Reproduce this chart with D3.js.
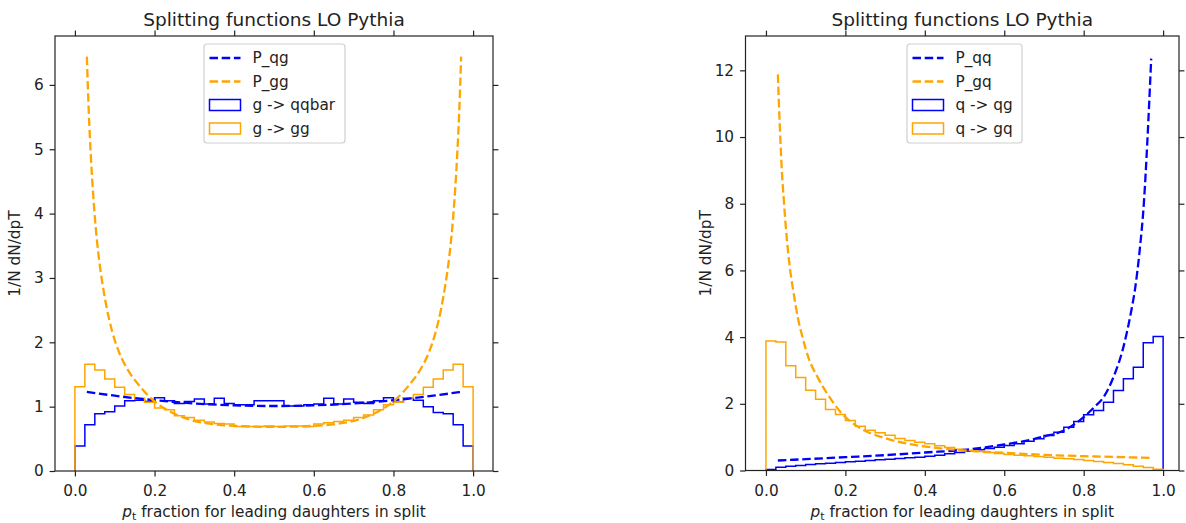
<!DOCTYPE html>
<html>
<head>
<meta charset="utf-8">
<script src="https://cdn.jsdelivr.net/npm/d3@7"></script>
<style>
  body { margin: 0; background: #fff; }
  svg text { font-family: "DejaVu Sans", sans-serif; fill: #222; }
</style>
</head>
<body>
<div id="chart"></div>
<script>
// histogram bins: 40 equal bins from 0 to 1
var binEdges = d3.range(41).map(function (i) { return i / 40; });

// left panel: gluon splittings
var gqqbarHist = [0.39, 0.72, 0.89, 0.92, 1.01, 1.09, 1.10, 1.08, 1.14, 1.09,
                  1.05, 1.08, 1.12, 1.04, 1.13, 1.05, 1.03, 1.03, 1.09, 1.09,
                  1.09, 1.01, 1.01, 1.03, 1.04, 1.13, 1.04, 1.12, 1.07, 1.05,
                  1.09, 1.14, 1.07, 1.14, 1.10, 1.00, 0.91, 0.89, 0.72, 0.39];
var gggHist = [1.31, 1.66, 1.57, 1.43, 1.30, 1.19, 1.13, 1.07, 0.98, 0.95,
               0.86, 0.83, 0.79, 0.76, 0.74, 0.73, 0.69, 0.69, 0.69, 0.70,
               0.69, 0.70, 0.70, 0.69, 0.73, 0.75, 0.77, 0.79, 0.83, 0.87,
               0.95, 1.03, 1.07, 1.14, 1.19, 1.30, 1.43, 1.57, 1.66, 1.31];
var pqgZ = [0.03, 0.1, 0.2, 0.3, 0.4, 0.5, 0.6, 0.7, 0.8, 0.9, 0.97];
var pqgVals = [1.23, 1.17, 1.10, 1.05, 1.02, 1.01, 1.02, 1.05, 1.10, 1.17, 1.23];
var pggZ = [0.03, 0.035, 0.04, 0.05, 0.06, 0.07, 0.08, 0.094, 0.11, 0.136, 0.16, 0.178, 0.2, 0.237, 0.287, 0.346, 0.405, 0.45, 0.5,
            0.55, 0.595, 0.654, 0.713, 0.763, 0.8, 0.822, 0.84, 0.864, 0.89, 0.906, 0.92, 0.93, 0.94, 0.95, 0.96, 0.965, 0.97];
var pggVals = [6.44, 5.55, 4.9, 3.95, 3.32, 2.88, 2.53, 2.16, 1.86, 1.54, 1.34, 1.21, 1.08, 0.93, 0.80, 0.73, 0.70, 0.69, 0.685,
               0.69, 0.70, 0.73, 0.80, 0.93, 1.08, 1.21, 1.34, 1.54, 1.86, 2.16, 2.53, 2.88, 3.32, 3.95, 4.9, 5.55, 6.44];

// right panel: quark splittings
var qqgHist = [0.03, 0.10, 0.13, 0.15, 0.18, 0.20, 0.22, 0.24, 0.26, 0.28,
               0.30, 0.32, 0.34, 0.36, 0.38, 0.40, 0.43, 0.46, 0.50, 0.54,
               0.58, 0.62, 0.66, 0.70, 0.75, 0.80, 0.88, 0.95, 1.05, 1.15,
               1.30, 1.47, 1.67, 1.80, 2.05, 2.40, 2.75, 3.10, 3.83, 4.02];
var qgqHist = [3.88, 3.85, 3.14, 2.79, 2.41, 2.14, 1.83, 1.68, 1.50, 1.33,
               1.21, 1.13, 1.06, 0.96, 0.90, 0.85, 0.80, 0.74, 0.69, 0.64,
               0.60, 0.57, 0.54, 0.51, 0.48, 0.46, 0.44, 0.42, 0.40, 0.37,
               0.35, 0.33, 0.30, 0.27, 0.24, 0.21, 0.17, 0.13, 0.09, 0.04];
var pqqZ = [0.03, 0.1, 0.2, 0.3, 0.4, 0.5, 0.6, 0.65, 0.7, 0.75, 0.8, 0.825, 0.85, 0.875, 0.9, 0.908, 0.92, 0.93, 0.941, 0.952, 0.96, 0.97];
var pqqVals = [0.30, 0.34, 0.40, 0.46, 0.54, 0.62, 0.78, 0.88, 1.02, 1.2, 1.6, 1.88, 2.2, 2.8, 3.7, 4.1, 4.8, 5.5, 6.6, 8.1, 9.8, 12.35];
var pgqZ = [0.03, 0.035, 0.04, 0.045, 0.05, 0.06, 0.07, 0.08, 0.092, 0.108, 0.13, 0.16, 0.188, 0.233, 0.3, 0.367, 0.434, 0.5, 0.6, 0.7, 0.8, 0.9, 0.97];
var pgqVals = [11.88, 10.3, 9.0, 8.1, 7.3, 6.1, 5.3, 4.6, 4.0, 3.35, 2.8, 2.2, 1.75, 1.3, 0.97, 0.78, 0.67, 0.60, 0.53, 0.47, 0.43, 0.40, 0.38];

var xTicks = [0, 0.2, 0.4, 0.6, 0.8, 1.0];
var leftYTicks = [0, 1, 2, 3, 4, 5, 6];
var rightYTicks = [0, 2, 4, 6, 8, 10, 12];

var titleText = "Splitting functions LO Pythia";
var yLabelText = "1/N dN/dpT";

var svg = d3.select("#chart").append("svg")
    .attr("width", 1186)
    .attr("height", 523);

var fontSize = 15.3;
var tickLen = 5.4;

function drawPanel(cfg) {
    var x = d3.scaleLinear().domain(cfg.xDomain).range([cfg.left, cfg.right]);
    var y = d3.scaleLinear().domain(cfg.yDomain).range([cfg.bottom, cfg.top]);

    var g = svg.append("g");

    var clipId = "clip" + cfg.id;
    svg.append("clipPath").attr("id", clipId)
        .append("rect")
        .attr("x", cfg.left).attr("y", cfg.top)
        .attr("width", cfg.right - cfg.left).attr("height", cfg.bottom - cfg.top);

    var plot = g.append("g").attr("clip-path", "url(#" + clipId + ")");

    // step histograms
    cfg.hists.forEach(function (h) {
        var pts = [[binEdges[0], 0]];
        h.values.forEach(function (v, i) {
            pts.push([binEdges[i], v]);
            pts.push([binEdges[i + 1], v]);
        });
        pts.push([binEdges[binEdges.length - 1], 0]);
        plot.append("path")
            .attr("d", d3.line().x(function (d) { return x(d[0]); }).y(function (d) { return y(d[1]); })(pts))
            .attr("fill", "none")
            .attr("stroke", h.color)
            .attr("stroke-width", 1.5)
            .attr("stroke-linejoin", "miter");
    });

    // dashed splitting functions
    cfg.lines.forEach(function (l) {
        var pts = l.z.map(function (z, i) { return [z, l.v[i]]; });
        plot.append("path")
            .attr("d", d3.line().curve(d3.curveMonotoneX)
                .x(function (d) { return x(d[0]); }).y(function (d) { return y(d[1]); })(pts))
            .attr("fill", "none")
            .attr("stroke", l.color)
            .attr("stroke-width", 2.3)
            .attr("stroke-dasharray", "8.5,3.7");
    });

    // axes on all four sides, ticks outward
    var fmt = d3.format(".1f");
    var xb = g.append("g").attr("transform", "translate(0," + cfg.bottom + ")")
        .call(d3.axisBottom(x).tickValues(xTicks).tickFormat(fmt).tickSize(tickLen).tickPadding(6));
    var xt = g.append("g").attr("transform", "translate(0," + cfg.top + ")")
        .call(d3.axisTop(x).tickValues(xTicks).tickFormat("").tickSize(tickLen));
    var yl = g.append("g").attr("transform", "translate(" + cfg.left + ",0)")
        .call(d3.axisLeft(y).tickValues(cfg.yTicks).tickFormat(d3.format("d")).tickSize(tickLen).tickPadding(6));
    var yr = g.append("g").attr("transform", "translate(" + cfg.right + ",0)")
        .call(d3.axisRight(y).tickValues(cfg.yTicks).tickFormat("").tickSize(tickLen));

    [xb, xt, yl, yr].forEach(function (a) {
        a.select(".domain").remove();
        a.selectAll(".tick line").attr("stroke", "#222").attr("stroke-width", 1.2);
        a.selectAll(".tick text")
            .attr("font-family", "DejaVu Sans")
            .attr("font-size", fontSize)
            .attr("fill", "#222");
    });
    xb.selectAll(".tick text").attr("dy", "0.9em");

    g.append("rect")
        .attr("x", cfg.left).attr("y", cfg.top)
        .attr("width", cfg.right - cfg.left).attr("height", cfg.bottom - cfg.top)
        .attr("fill", "none")
        .attr("stroke", "#222")
        .attr("stroke-width", 1.2);

    var cx = (cfg.left + cfg.right) / 2;

    g.append("text")
        .attr("x", cx).attr("y", 26)
        .attr("text-anchor", "middle")
        .attr("font-size", 18.5)
        .text(titleText);

    g.append("text")
        .attr("transform", "translate(" + cfg.yLabelX + "," + ((cfg.top + cfg.bottom) / 2) + ")rotate(-90)")
        .attr("text-anchor", "middle")
        .attr("font-size", fontSize)
        .text(yLabelText);

    var xl = g.append("text")
        .attr("x", cx).attr("y", 517)
        .attr("text-anchor", "middle")
        .attr("font-size", fontSize);
    xl.append("tspan").attr("font-style", "italic").text("p");
    xl.append("tspan").attr("font-size", 11).attr("dy", 3).text("t");
    xl.append("tspan").attr("dy", -3).text(" fraction for leading daughters in split");

    // legend
    var lg = cfg.legend;
    g.append("rect")
        .attr("x", lg.x).attr("y", 44)
        .attr("width", lg.w).attr("height", 99)
        .attr("rx", 3)
        .attr("fill", "#fff").attr("fill-opacity", 0.8)
        .attr("stroke", "#d0d0d0").attr("stroke-width", 1.2);

    var rows = [58, 81.5, 105, 128.5];
    var entries = cfg.lines.map(function (l) { return { label: l.label, color: l.color, kind: "line" }; })
        .concat(cfg.hists.map(function (h) { return { label: h.label, color: h.color, kind: "patch" }; }));
    entries.forEach(function (e, i) {
        var ry = rows[i];
        var hx = lg.x + 5.5;
        if (e.kind === "line") {
            g.append("line")
                .attr("x1", hx).attr("x2", hx + 31)
                .attr("y1", ry).attr("y2", ry)
                .attr("stroke", e.color).attr("stroke-width", 2.3)
                .attr("stroke-dasharray", "8.5,3.7");
        } else {
            g.append("rect")
                .attr("x", hx).attr("y", ry - 5.5)
                .attr("width", 31).attr("height", 11)
                .attr("fill", "none")
                .attr("stroke", e.color).attr("stroke-width", 1.5);
        }
        g.append("text")
            .attr("x", hx + 43).attr("y", ry + 5.3)
            .attr("font-size", fontSize)
            .text(e.label);
    });
}

drawPanel({
    id: "L",
    left: 55, right: 493, top: 36, bottom: 471,
    xDomain: [-0.05, 1.05], yDomain: [0, 6.76],
    yTicks: leftYTicks, yLabelX: 20,
    hists: [
        { label: "g -> qqbar", color: "blue", values: gqqbarHist },
        { label: "g -> gg", color: "orange", values: gggHist }
    ],
    lines: [
        { label: "P_qg", color: "blue", z: pqgZ, v: pqgVals },
        { label: "P_gg", color: "orange", z: pggZ, v: pggVals }
    ],
    legend: { x: 204, w: 141 }
});

drawPanel({
    id: "R",
    left: 745.5, right: 1179, top: 36, bottom: 470.5,
    xDomain: [-0.0515, 1.04], yDomain: [0, 13.03],
    yTicks: rightYTicks, yLabelX: 711,
    hists: [
        { label: "q -> qg", color: "blue", values: qqgHist },
        { label: "q -> gq", color: "orange", values: qgqHist }
    ],
    lines: [
        { label: "P_qq", color: "blue", z: pqqZ, v: pqqVals },
        { label: "P_gq", color: "orange", z: pgqZ, v: pgqVals }
    ],
    legend: { x: 907, w: 115 }
});
</script>
</body>
</html>
